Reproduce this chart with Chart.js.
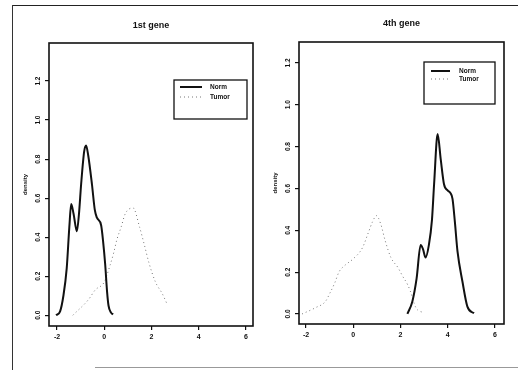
<!DOCTYPE html>
<html>
<head>
<meta charset="utf-8">
<script src="https://cdn.jsdelivr.net/npm/chart.js@4.4.1/dist/chart.umd.min.js"></script>
<style>
  body { margin: 0; background: #fff; }
  #page { position: relative; width: 518px; height: 370px; overflow: hidden; background: #fff; }
  .panel { position: absolute; top: 0; width: 259px; height: 370px; }
  .frame { position: absolute; }
  #fTop { left: 12px; top: 5px; width: 506px; border-top: 1.5px solid #222; }
  #fLeft { left: 12px; top: 5px; height: 365px; border-left: 1.5px solid #333; }
  #fBottom { left: 95px; top: 367px; width: 423px; border-top: 1.5px solid #999; }
</style>
</head>
<body>
<div id="page">
  <div class="panel" style="left:0"><canvas id="gene1"></canvas></div>
  <div class="panel" style="left:259px"><canvas id="gene4"></canvas></div>
  <div class="frame" id="fTop"></div>
  <div class="frame" id="fLeft"></div>
  <div class="frame" id="fBottom"></div>
</div>
<script>
// tick labels
const xTicks = [-2, 0, 2, 4, 6];
const yTicks = [0, 0.2, 0.4, 0.6, 0.8, 1.0, 1.2];
const seriesNames = ["Norm", "Tumor"];

// 1st gene
const gene1NormX = [-2.04, -1.87, -1.73, -1.59, -1.48, -1.40, -1.30, -1.16, -1.07, -0.98, -0.85, -0.77, -0.68, -0.52, -0.40, -0.31, -0.13, -0.05, 0.04, 0.12, 0.18, 0.28, 0.37];
const gene1NormY = [0.00, 0.02, 0.10, 0.24, 0.45, 0.57, 0.52, 0.43, 0.52, 0.67, 0.84, 0.87, 0.82, 0.67, 0.54, 0.50, 0.46, 0.38, 0.26, 0.12, 0.05, 0.015, 0.004];
const gene1TumorX = [-1.33, -0.67, -0.38, 0.00, 0.23, 0.40, 0.54, 0.71, 0.89, 1.22, 1.50, 1.70, 1.89, 2.17, 2.46, 2.67];
const gene1TumorY = [0.00, 0.08, 0.13, 0.17, 0.25, 0.32, 0.39, 0.45, 0.52, 0.55, 0.45, 0.36, 0.27, 0.17, 0.11, 0.055];

// 4th gene
const gene4NormX = [2.29, 2.50, 2.68, 2.85, 2.95, 3.06, 3.20, 3.33, 3.42, 3.57, 3.70, 3.84, 4.00, 4.10, 4.20, 4.30, 4.41, 4.62, 4.83, 5.11];
const gene4NormY = [0.00, 0.06, 0.17, 0.33, 0.31, 0.27, 0.33, 0.45, 0.62, 0.86, 0.74, 0.62, 0.59, 0.58, 0.55, 0.44, 0.30, 0.155, 0.035, 0.003];
const gene4TumorX = [-2.17, -1.60, -1.18, -0.99, -0.78, -0.61, -0.33, -0.04, 0.38, 0.64, 0.81, 0.98, 1.16, 1.35, 1.59, 1.90, 2.09, 2.30, 2.41, 2.65, 3.00];
const gene4TumorY = [0.00, 0.03, 0.06, 0.10, 0.15, 0.20, 0.235, 0.26, 0.315, 0.39, 0.44, 0.47, 0.43, 0.35, 0.27, 0.22, 0.18, 0.14, 0.11, 0.03, 0.005];

const FONT = '"Liberation Sans", Arial, sans-serif';
const INK = '#111';

function pts(xs, ys) {
    return xs.map((x, i) => ({ x: x, y: ys[i] }));
}

// R style box round the plot region and a boxed legend
const rBoxPlugin = {
    id: 'rbox',
    afterDraw(chart, args, opts) {
        const { ctx, chartArea: a } = chart;
        ctx.save();
        ctx.strokeStyle = INK;
        ctx.lineWidth = 1.6;
        ctx.strokeRect(a.left, a.top, a.right - a.left, a.bottom - a.top);

        const L = opts.legend;
        ctx.lineWidth = 1.3;
        ctx.strokeRect(L.x, L.y, L.w, L.h);
        chart.data.datasets.forEach((ds, i) => {
            const y = L.y + L.row0 + i * L.rowGap;
            ctx.beginPath();
            ctx.setLineDash(ds.borderDash || []);
            ctx.strokeStyle = ds.borderColor;
            ctx.lineWidth = ds.borderWidth;
            ctx.moveTo(L.x + L.line0, y);
            ctx.lineTo(L.x + L.line1, y);
            ctx.stroke();
            ctx.setLineDash([]);
            ctx.fillStyle = INK;
            ctx.font = 'bold 6.5px ' + FONT;
            ctx.textBaseline = 'middle';
            ctx.textAlign = 'left';
            ctx.fillText(ds.label, L.x + L.text, y);
        });
        ctx.restore();
    }
};

function makeChart(id, title, normPts, tumorPts, lay) {
    const ctx = document.getElementById(id).getContext("2d");
    return new Chart(ctx, {
        type: "line",
        data: {
            datasets: [{
                label: seriesNames[0],
                data: normPts,
                borderColor: INK,
                borderWidth: 2,
                pointRadius: 0,
                cubicInterpolationMode: 'monotone'
            }, {
                label: seriesNames[1],
                data: tumorPts,
                borderColor: '#777',
                borderWidth: 1,
                borderDash: [1, 3],
                pointRadius: 0,
                cubicInterpolationMode: 'monotone'
            }]
        },
        options: {
            responsive: true,
            maintainAspectRatio: false,
            animation: false,
            devicePixelRatio: 1,
            layout: { padding: { left: 0, right: 259 - lay.right, top: 0, bottom: 0 } },
            plugins: {
                legend: { display: false },
                tooltip: { enabled: false },
                title: {
                    display: true,
                    fullSize: false,
                    text: title,
                    color: INK,
                    font: { family: FONT, size: 9, weight: 'bold' },
                    padding: { top: lay.titleTop, bottom: lay.top - lay.titleTop - 10.8 }
                },
                rbox: { legend: lay.legend }
            },
            scales: {
                x: {
                    type: 'linear',
                    min: lay.xMin,
                    max: lay.xMax,
                    afterBuildTicks: s => { s.ticks = xTicks.map(v => ({ value: v })); },
                    afterFit: s => { s.height = 370 - lay.bottom; },
                    grid: { display: true, drawOnChartArea: false, drawTicks: true, tickLength: 4, color: INK, lineWidth: 1.2 },
                    border: { display: false },
                    ticks: { color: INK, font: { family: FONT, size: 7, weight: 'bold' }, padding: 3, maxRotation: 0, autoSkip: false }
                },
                y: {
                    type: 'linear',
                    min: lay.yMin,
                    max: lay.yMax,
                    afterBuildTicks: s => { s.ticks = yTicks.map(v => ({ value: v })); },
                    afterFit: s => { s.width = lay.left; },
                    grid: { display: true, drawOnChartArea: false, drawTicks: true, tickLength: 4, color: INK, lineWidth: 1.2 },
                    border: { display: false },
                    ticks: {
                        color: INK,
                        font: { family: FONT, size: 6.5, weight: 'bold' },
                        minRotation: 90,
                        maxRotation: 90,
                        crossAlign: 'center',
                        padding: 2,
                        autoSkip: false,
                        callback: v => Number(v).toFixed(1)
                    },
                    title: {
                        display: true,
                        text: 'density',
                        color: INK,
                        font: { family: FONT, size: 6, weight: 'bold' },
                        padding: { top: lay.yTitle - 3.6, bottom: 0 }
                    }
                }
            }
        },
        plugins: [rBoxPlugin]
    });
}

makeChart("gene1", "1st gene", pts(gene1NormX, gene1NormY), pts(gene1TumorX, gene1TumorY), {
    left: 49, right: 253, top: 43, bottom: 326, titleTop: 20.6, yTitle: 25,
    xMin: -2.34, xMax: 6.3, yMin: -0.055, yMax: 1.395,
    legend: { x: 174, y: 80, w: 73, h: 39, row0: 7, rowGap: 10, line0: 6, line1: 28, text: 36 }
});

makeChart("gene4", "4th gene", pts(gene4NormX, gene4NormY), pts(gene4TumorX, gene4TumorY), {
    left: 40, right: 245, top: 42, bottom: 324, titleTop: 18.6, yTitle: 16,
    xMin: -2.3, xMax: 6.38, yMin: -0.048, yMax: 1.30,
    legend: { x: 165, y: 62, w: 71, h: 42, row0: 9, rowGap: 8, line0: 7, line1: 26, text: 35 }
});
</script>
</body>
</html>
